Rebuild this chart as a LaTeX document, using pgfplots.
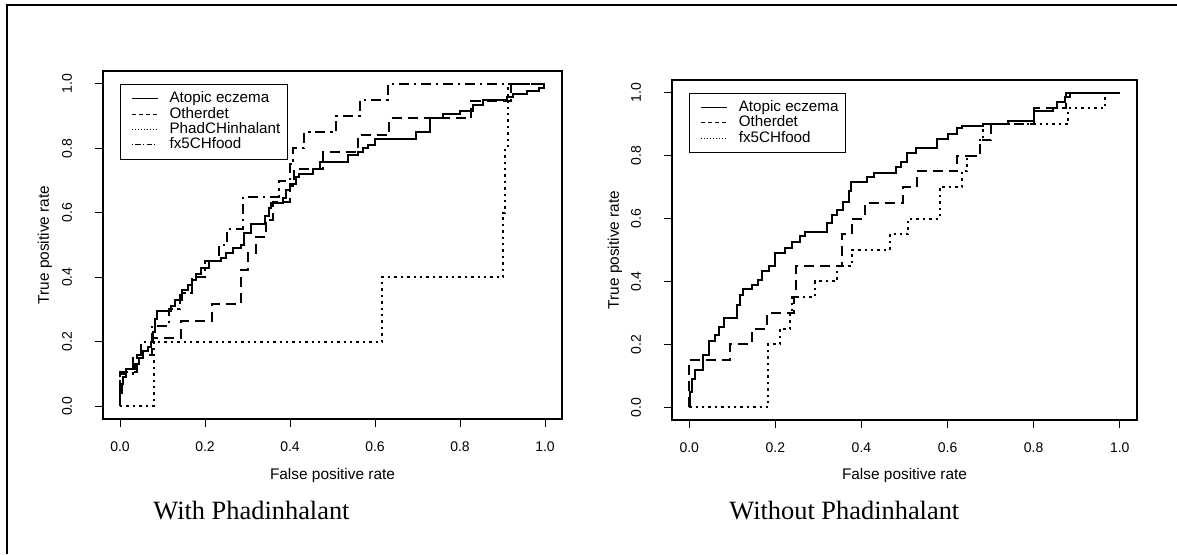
\documentclass[border=0pt]{standalone}
\usepackage{fontspec}
\setmainfont{Liberation Sans}
\newfontfamily\capfont{Liberation Serif}
\usepackage{pgfplots}
\pgfplotsset{compat=1.18}

\pgfplotsset{
  rocpanel/.style={
    scale only axis,
    xmin=-0.04, xmax=1.04, ymin=-0.04, ymax=1.04,
    xtick={0,0.2,0.4,0.6,0.8,1}, ytick={0,0.2,0.4,0.6,0.8,1},
    xtick pos=bottom, ytick pos=left,
    tick align=outside, major tick length=4pt,
    tick style={black, line width=0.5pt},
    axis line style={black, line width=0.8pt},
    ticklabel style={font=\fontsize{7}{8}\selectfont},
    /pgf/number format/.cd, fixed, fixed zerofill, precision=1, assume math mode=true,
    /pgfplots/.cd,
    xticklabel shift=4pt,
    yticklabel style={rotate=90, anchor=south},
    yticklabel shift=8pt,
    label style={font=\fontsize{7.7}{9}\selectfont},
    xlabel={False positive rate}, ylabel={True positive rate},
    legend cell align=left,
    legend style={at={(axis description cs:0.037,0.963)}, anchor=north west,
      draw=black, line width=0.6pt, fill=white,
      font=\fontsize{7.6}{8}\selectfont,
      inner xsep=3pt, inner ysep=3.4pt, row sep=0pt,
      nodes={inner sep=0.5pt, text height=5.3pt, text depth=1.35pt}},
    legend image code/.code={
      \path[draw=none] (0pt,0pt) (21pt,0pt);
      \draw[#1] (2.6pt,0pt) -- (15.6pt,0pt);},
  },
  stepline/.style={black, line width=1pt, const plot mark left, mark=none},
  atopic/.style={stepline},
  otherdet/.style={stepline, dash pattern=on 5pt off 3pt},
  phad/.style={stepline, dash pattern=on 1.2pt off 2pt},
  food/.style={stepline, dash pattern=on 1.2pt off 2.4pt on 5pt off 2.4pt},
}

\begin{document}
\begin{tikzpicture}
\path[use as bounding box] (0pt,0pt) rectangle (588.5pt,277pt);
\draw[line width=0.8pt] (3.5pt,0pt) -- (3.5pt,274.6pt) -- (588.5pt,274.6pt);

% left panel: with Phadinhalant
\begin{axis}[rocpanel, at={(51.5pt,67.5pt)}, anchor=south west,
  width=229.5pt, height=174pt,
  xlabel style={at={(axis description cs:0.5,-0.161)}, anchor=center},
  ylabel style={at={(axis description cs:-0.1264,0.5)}, anchor=center}]
\addlegendimage{black, line width=0.5pt}
\addlegendentry{Atopic eczema}
\addlegendimage{black, line width=0.5pt, dash pattern=on 2pt off 1.5pt}
\addlegendentry{Otherdet}
\addlegendimage{black, line width=0.5pt, dash pattern=on 0.6pt off 0.9pt}
\addlegendentry{PhadCHinhalant}
\addlegendimage{black, line width=0.5pt, dash pattern=on 0.6pt off 1.2pt on 2.6pt off 1.2pt}
\addlegendentry{fx5CHfood}
\addplot[atopic, forget plot] coordinates {
(0,0) (0.001,0.04) (0.004,0.07) (0.008,0.09) (0.013,0.115) (0.035,0.13)
(0.045,0.15) (0.055,0.17) (0.065,0.185) (0.072,0.2) (0.078,0.23) (0.083,0.27)
(0.088,0.296) (0.12,0.31) (0.13,0.33) (0.145,0.36) (0.16,0.375) (0.17,0.39)
(0.178,0.41) (0.19,0.43) (0.21,0.451) (0.237,0.46) (0.25,0.475) (0.265,0.49)
(0.285,0.5) (0.292,0.536) (0.308,0.565) (0.34,0.59) (0.35,0.615) (0.355,0.63)
(0.383,0.645) (0.39,0.67) (0.4,0.69) (0.414,0.712) (0.422,0.72) (0.453,0.735)
(0.47,0.757) (0.537,0.78) (0.56,0.79) (0.572,0.8) (0.584,0.81) (0.6,0.83)
(0.697,0.85) (0.729,0.895) (0.76,0.906) (0.8,0.916) (0.83,0.935) (0.853,0.95)
(0.91,0.96) (0.925,0.968) (0.958,0.978) (0.985,0.988) (0.998,1.0) (1,1)};
\addplot[otherdet, forget plot] coordinates {
(0,0) (0,0.105) (0.04,0.158) (0.075,0.211) (0.143,0.263) (0.217,0.316)
(0.285,0.421) (0.3,0.474) (0.32,0.526) (0.344,0.579) (0.36,0.632) (0.4,0.684)
(0.41,0.737) (0.477,0.789) (0.56,0.842) (0.634,0.895) (0.827,0.947) (0.92,1.0) (1,1)};
\addplot[phad, forget plot] coordinates {
(0,0) (0.079,0.2) (0.617,0.4) (0.902,0.6) (0.906,0.8) (0.912,1.0) (1,1)};
\addplot[food, forget plot] coordinates {
(0,0) (0,0.1) (0.03,0.15) (0.049,0.2) (0.076,0.25) (0.116,0.3) (0.14,0.35)
(0.17,0.4) (0.2,0.45) (0.234,0.5) (0.252,0.55) (0.29,0.65) (0.373,0.7)
(0.4,0.75) (0.408,0.8) (0.434,0.85) (0.509,0.9) (0.564,0.95) (0.63,1.0) (1,1)};
\end{axis}

% right panel: without Phadinhalant
\begin{axis}[rocpanel, at={(336pt,67pt)}, anchor=south west,
  width=232.5pt, height=170pt,
  xlabel style={at={(axis description cs:0.5,-0.162)}, anchor=center},
  ylabel style={at={(axis description cs:-0.1226,0.5)}, anchor=center}]
\addlegendimage{black, line width=0.5pt}
\addlegendentry{Atopic eczema}
\addlegendimage{black, line width=0.5pt, dash pattern=on 2pt off 1.5pt}
\addlegendentry{Otherdet}
\addlegendimage{black, line width=0.5pt, dash pattern=on 0.6pt off 0.9pt}
\addlegendentry{fx5CHfood}
\addplot[atopic, forget plot] coordinates {
(0,0) (0.002,0.05) (0.006,0.09) (0.014,0.12) (0.033,0.167) (0.045,0.21)
(0.06,0.23) (0.07,0.255) (0.08,0.284) (0.11,0.326) (0.118,0.358) (0.126,0.375)
(0.145,0.39) (0.16,0.405) (0.17,0.432) (0.185,0.448) (0.2,0.49) (0.223,0.506)
(0.238,0.527) (0.258,0.543) (0.269,0.556) (0.319,0.585) (0.331,0.612) (0.343,0.628)
(0.358,0.654) (0.37,0.686) (0.375,0.717) (0.412,0.733) (0.428,0.746) (0.48,0.763)
(0.493,0.778) (0.505,0.807) (0.527,0.823) (0.575,0.852) (0.6,0.868) (0.623,0.887)
(0.633,0.895) (0.683,0.9) (0.741,0.911) (0.8,0.94) (0.845,0.95) (0.853,0.971)
(0.872,0.987) (0.884,1.0) (1,1)};
\addplot[otherdet, forget plot] coordinates {
(0,0) (0,0.15) (0.095,0.2) (0.145,0.25) (0.18,0.3) (0.243,0.35) (0.248,0.45)
(0.354,0.55) (0.377,0.6) (0.408,0.65) (0.497,0.7) (0.528,0.75) (0.623,0.8)
(0.675,0.85) (0.702,0.9) (0.8,0.95) (0.876,1.0) (1,1)};
\addplot[phad, forget plot] coordinates {
(0,0) (0.184,0.2) (0.211,0.25) (0.234,0.3) (0.238,0.35) (0.292,0.4) (0.343,0.45)
(0.378,0.5) (0.466,0.55) (0.509,0.6) (0.582,0.7) (0.633,0.75) (0.645,0.8)
(0.675,0.85) (0.683,0.9) (0.88,0.95) (0.965,1.0) (1,1)};
\end{axis}

\node[anchor=base west, inner sep=0pt, font=\capfont\fontsize{13.2}{15}\selectfont] at (76.5pt,17.5pt) {With Phadinhalant};
\node[anchor=base west, inner sep=0pt, font=\capfont\fontsize{13.2}{15}\selectfont] at (364.5pt,17.5pt) {Without Phadinhalant};
\end{tikzpicture}
\end{document}
